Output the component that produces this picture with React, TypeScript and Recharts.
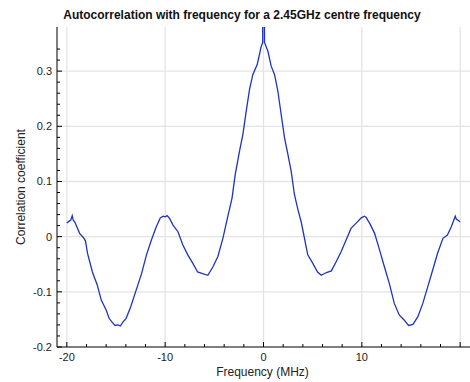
import React from 'react';
import { LineChart, Line, XAxis, YAxis, CartesianGrid, Label } from 'recharts';

const titleText = 'Autocorrelation with frequency for a 2.45GHz centre frequency';
const xAxisLabel = 'Frequency (MHz)';
const yAxisLabel = 'Correlation coefficient';

const freqMHz = [
  -20.0, -19.6, -19.45, -19.35, -19.2, -18.7, -18.3, -18.1, -17.9, -17.4,
  -16.9, -16.5, -16.0, -15.7, -15.4, -15.1, -14.8, -14.55, -14.3, -13.97,
  -13.5, -12.95, -12.4, -11.9, -11.4, -10.9, -10.5, -10.2, -10.0, -9.8,
  -9.55, -9.2, -8.7, -8.2, -7.7, -7.2, -6.7, -6.2, -5.66, -5.15,
  -4.64, -4.13, -3.6, -3.2, -2.88, -2.44, -2.1, -1.76, -1.42, -1.08,
  -0.64, -0.23, -0.08, -0.07, 0.09, 0.1, 0.45, 0.78, 1.12, 1.46,
  1.8, 2.14, 2.48, 2.82, 3.15, 3.5, 3.83, 4.1, 4.5, 5.0,
  5.5, 5.87, 6.4, 6.9, 7.4, 7.9, 8.4, 8.9, 9.4, 9.94,
  10.27, 10.45, 10.6, 10.8, 11.3, 11.8, 12.3, 12.8, 13.3, 13.8,
  14.3, 14.75, 15.2, 15.7, 16.2, 16.7, 17.2, 17.7, 18.25, 18.7,
  19.1, 19.5, 19.6, 20.0,
];

const correlation = [
  0.025, 0.030, 0.038, 0.030, 0.027, 0.006, -0.002, -0.008, -0.030, -0.064,
  -0.088, -0.115, -0.133, -0.148, -0.155, -0.161, -0.160, -0.162, -0.155, -0.148,
  -0.127, -0.097, -0.067, -0.033, -0.006, 0.018, 0.034, 0.037, 0.036, 0.038,
  0.033, 0.021, 0.009, -0.015, -0.033, -0.048, -0.064, -0.067, -0.070, -0.055,
  -0.036, -0.003, 0.039, 0.070, 0.112, 0.155, 0.185, 0.227, 0.267, 0.294,
  0.312, 0.345, 0.352, 1.0, 1.0, 0.352, 0.336, 0.309, 0.294, 0.264,
  0.221, 0.179, 0.149, 0.118, 0.076, 0.049, 0.027, 0.003, -0.033, -0.048,
  -0.064, -0.070, -0.065, -0.062, -0.045, -0.027, -0.006, 0.015, 0.024, 0.034,
  0.037, 0.035, 0.030, 0.024, 0.006, -0.024, -0.055, -0.085, -0.121, -0.142,
  -0.151, -0.161, -0.159, -0.145, -0.121, -0.091, -0.061, -0.030, -0.003, 0.003,
  0.018, 0.037, 0.032, 0.027,
];

const xTicks = [-20, -18, -16, -14, -12, -10, -8, -6, -4, -2, 0, 2, 4, 6, 8, 10, 12, 14, 16, 18, 20];
const xMajorTicks = [-20, -10, 0, 10, 20];
const xLabelledTicks = [-20, -10, 0, 10];
const yTicks = [-0.2, -0.18, -0.16, -0.14, -0.12, -0.1, -0.08, -0.06, -0.04, -0.02, 0, 0.02, 0.04, 0.06, 0.08, 0.1, 0.12, 0.14, 0.16, 0.18, 0.2, 0.22, 0.24, 0.26, 0.28, 0.3, 0.32, 0.34];
const yMajorTicks = [-0.2, -0.1, 0, 0.1, 0.2, 0.3];
const yGridValues = [-0.1, 0, 0.1, 0.2, 0.3];

const data = freqMHz.map((f, i) => ({ f, c: correlation[i] }));

const FONT = '"Liberation Sans", Arial, Helvetica, sans-serif';

const isMajor = (v: number, majors: number[]) => majors.some((m) => Math.abs(m - v) < 1e-9);

const XTick = (props: any) => {
  const { x, y, payload } = props;
  const v = payload.value;
  const major = isMajor(v, xMajorTicks);
  const labelled = isMajor(v, xLabelledTicks);
  return (
    <g>
      <line x1={x} x2={x} y1={y} y2={y - (major ? 5 : 3)} stroke="#000" strokeWidth={1} />
      {labelled && (
        <text x={x} y={y + 14} textAnchor="middle" fontSize={11} fontFamily={FONT} fill="#222">
          {String(v)}
        </text>
      )}
    </g>
  );
};

const YTick = (props: any) => {
  const { x, y, payload } = props;
  const v = payload.value;
  const major = isMajor(v, yMajorTicks);
  const label = Math.abs(v) < 1e-9 ? '0' : v.toFixed(1);
  return (
    <g>
      <line x1={x} x2={x + (major ? 5 : 3)} y1={y} y2={y} stroke="#000" strokeWidth={1} />
      {major && (
        <text x={x - 5} y={y} dy="0.35em" textAnchor="end" fontSize={11} fontFamily={FONT} fill="#222">
          {label}
        </text>
      )}
    </g>
  );
};

const XLabel = (props: any) => {
  const vb = props.viewBox;
  return (
    <text x={vb.x + vb.width / 2 - 1} y={vb.y + 29} textAnchor="middle" fontSize={12} fontFamily={FONT} fill="#222">
      {xAxisLabel}
    </text>
  );
};

const YLabel = (props: any) => {
  const vb = props.viewBox;
  const cx = vb.x + 25;
  const cy = vb.y + vb.height / 2;
  return (
    <text x={cx} y={cy} transform={`rotate(-90, ${cx}, ${cy})`} textAnchor="middle" fontSize={12} fontFamily={FONT} fill="#222">
      {yAxisLabel}
    </text>
  );
};

export default function App() {
  return (
    <div style={{ position: 'absolute', left: 0, top: 0, width: 470, height: 382, background: '#fff' }}>
      <svg width={470} height={30} style={{ position: 'absolute', left: 0, top: 0 }}>
        <text x={242} y={18.5} textAnchor="middle" fontSize={12} fontWeight="bold" fontFamily={FONT} fill="#111">
          {titleText}
        </text>
      </svg>
      <div style={{ position: 'absolute', left: 0, top: 0 }}>
        <LineChart width={470} height={382} data={data} margin={{ top: 27, right: 0, bottom: 0, left: 0 }}>
          <CartesianGrid stroke="#e4e4e4" strokeWidth={1.3} horizontalValues={yGridValues} verticalValues={xMajorTicks} />
          <XAxis
            dataKey="f"
            type="number"
            domain={[-21, 21]}
            allowDataOverflow
            ticks={xTicks}
            interval={0}
            tickSize={0}
            tickMargin={0}
            tickLine={false}
            tick={<XTick />}
            height={35}
            axisLine={{ stroke: '#000', strokeWidth: 1 }}
          >
            <Label content={<XLabel />} />
          </XAxis>
          <YAxis
            type="number"
            domain={[-0.2, 0.38]}
            allowDataOverflow
            ticks={yTicks}
            interval={0}
            tickSize={0}
            tickMargin={0}
            tickLine={false}
            tick={<YTick />}
            width={57}
            axisLine={{ stroke: '#000', strokeWidth: 1 }}
          >
            <Label content={<YLabel />} />
          </YAxis>
          <Line
            type="linear"
            dataKey="c"
            stroke="#1f33c2"
            strokeWidth={1.3}
            dot={false}
            isAnimationActive={false}
          />
        </LineChart>
      </div>
    </div>
  );
}
